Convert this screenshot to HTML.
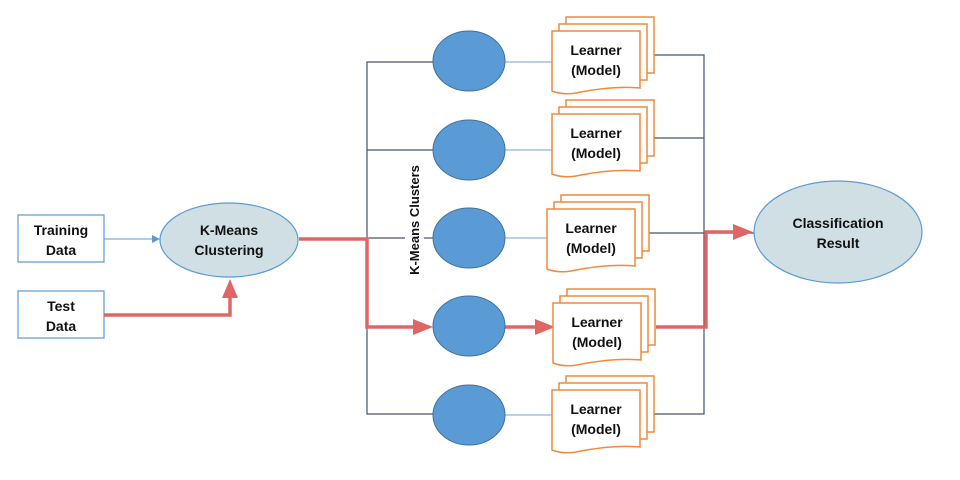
<!DOCTYPE html>
<html><head><meta charset="utf-8"><style>
html,body{margin:0;padding:0;background:#fff;width:960px;height:480px;overflow:hidden}
text{font-family:"Liberation Sans",sans-serif;font-weight:bold;fill:#111}
</style></head><body>
<svg width="960" height="480" viewBox="0 0 960 480" xmlns="http://www.w3.org/2000/svg">
<defs>
<g id="stk">
<rect x="14" y="-14" width="88" height="56" fill="#fff" stroke="#f08a3c" stroke-width="1.5"/>
<rect x="7" y="-7" width="88" height="56" fill="#fff" stroke="#f08a3c" stroke-width="1.5"/>
<path d="M0,0 H88 V57 C66,55 44,58 24,62 C12,64 5,62 0,60 Z" fill="#fff" stroke="#f08a3c" stroke-width="1.5"/>
</g>
</defs>
<!-- bus lines -->
<g stroke="#44546a" stroke-width="1.2" fill="none">
<path d="M433,62 H367 V414 H433"/>
<line x1="367" y1="150" x2="433" y2="150"/>
<line x1="367" y1="238" x2="405" y2="238"/>
<line x1="424" y1="238" x2="433" y2="238"/>
<path d="M641,55 H704 V414 H641"/>
<line x1="641" y1="138" x2="704" y2="138"/>
<line x1="637" y1="233" x2="754" y2="233"/>
</g>
<g stroke="#9dc3e6" stroke-width="1.5">
<line x1="505" y1="62" x2="552" y2="62"/>
<line x1="505" y1="150" x2="552" y2="150"/>
<line x1="505" y1="238" x2="547" y2="238"/>
<line x1="505" y1="415" x2="552" y2="415"/>
</g>
<!-- inputs -->
<rect x="18" y="215" width="86" height="47" fill="#fff" stroke="#5b9bd5" stroke-width="1.2"/>
<text x="61" y="235" font-size="14" text-anchor="middle">Training</text>
<text x="61" y="255" font-size="14" text-anchor="middle">Data</text>
<rect x="18" y="291" width="86" height="47" fill="#fff" stroke="#5b9bd5" stroke-width="1.2"/>
<text x="61" y="311" font-size="14" text-anchor="middle">Test</text>
<text x="61" y="331" font-size="14" text-anchor="middle">Data</text>
<line x1="104" y1="239" x2="152" y2="239" stroke="#5b9bd5" stroke-width="1"/>
<polygon points="152,235 160,239 152,243" fill="#5b9bd5"/>
<!-- red paths -->
<g stroke="#e06666" stroke-width="3.5" fill="none">
<path d="M104,315 H230 V296"/>
<path d="M299,239 H367 V327 H418"/>
<line x1="505" y1="327" x2="538" y2="327"/>
<path d="M656,327 H706 V232 H736"/>
</g>
<polygon points="222,298 230,279 238,298" fill="#e06666"/>
<polygon points="413,319 433,327 413,335" fill="#e06666"/>
<polygon points="535,319 555,327 535,335" fill="#e06666"/>
<polygon points="733,224 753,232 733,240" fill="#e06666"/>
<!-- kmeans -->
<ellipse cx="229" cy="240" rx="69" ry="37" fill="#d0dfe3" stroke="#5b9bd5" stroke-width="1.2"/>
<text x="229" y="235" font-size="14" text-anchor="middle">K-Means</text>
<text x="229" y="255" font-size="14" text-anchor="middle">Clustering</text>
<!-- clusters -->
<g fill="#5b9bd5" stroke="#41719c" stroke-width="1">
<ellipse cx="469" cy="61" rx="36" ry="30"/>
<ellipse cx="469" cy="150" rx="36" ry="30"/>
<ellipse cx="469" cy="238" rx="36" ry="30"/>
<ellipse cx="469" cy="326" rx="36" ry="30"/>
<ellipse cx="469" cy="415" rx="36" ry="30"/>
</g>
<text transform="translate(419,220) rotate(-90)" font-size="13" text-anchor="middle">K-Means Clusters</text>
<!-- learners -->
<g font-size="14" text-anchor="middle">
<use href="#stk" x="552" y="31"/><text x="596" y="55">Learner</text><text x="596" y="75">(Model)</text>
<use href="#stk" x="552" y="114"/><text x="596" y="138">Learner</text><text x="596" y="158">(Model)</text>
<use href="#stk" x="547" y="209"/><text x="591" y="233">Learner</text><text x="591" y="253">(Model)</text>
<use href="#stk" x="553" y="303"/><text x="597" y="327">Learner</text><text x="597" y="347">(Model)</text>
<use href="#stk" x="552" y="390"/><text x="596" y="414">Learner</text><text x="596" y="434">(Model)</text>
</g>
<!-- result -->
<ellipse cx="838" cy="232" rx="84" ry="51" fill="#d0dfe3" stroke="#5b9bd5" stroke-width="1.2"/>
<text x="838" y="228" font-size="14" text-anchor="middle">Classification</text>
<text x="838" y="248" font-size="14" text-anchor="middle">Result</text>
</svg>
</body></html>
